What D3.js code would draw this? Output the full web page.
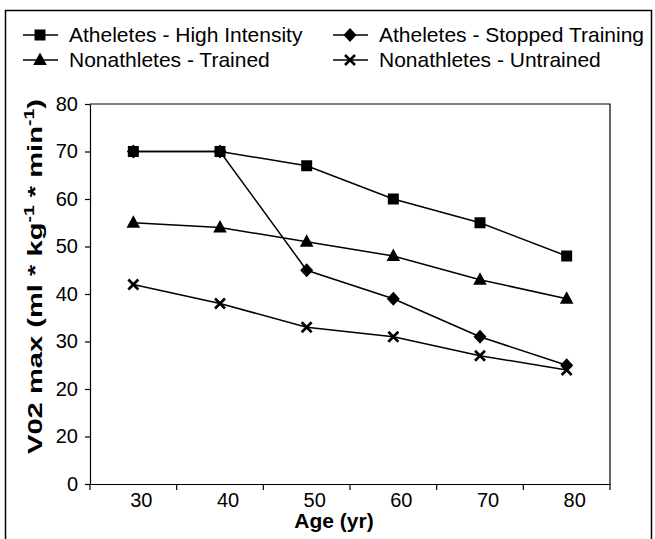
<!DOCTYPE html>
<html>
<head>
  <meta charset="utf-8">
  <title>V02 max by age</title>
  <script src="https://d3js.org/d3.v7.min.js"></script>
  <style>
    body { margin: 0; background: #fff; }
    text { font-family: "Liberation Sans", Arial, sans-serif; fill: #000; }
  </style>
</head>
<body>
  <script>
    // data
    const ages = ['30', '40', '50', '60', '70', '80'];
    const highIntensity = [70, 70, 67, 60, 55, 48];
    const stoppedTraining = [70, 70, 45, 39, 31, 25];
    const nonTrained = [55, 54, 51, 48, 43, 39];
    const nonUntrained = [42, 38, 33, 31, 27, 24];
    const yTicks = [0, 10, 20, 30, 40, 50, 60, 70, 80];
    // the original axis says "20" twice
    const yTickLabels = ['0', '20', '20', '30', '40', '50', '60', '70', '80'];

    const width = 655, height = 539;
    const margin = {left: 90, right: 45, top: 104, bottom: 55};

    const svg = d3.select('body').append('svg')
      .attr('width', width)
      .attr('height', height);

    // outer frame
    svg.append('rect')
      .attr('x', 5.5).attr('y', 10.5)
      .attr('width', 646).attr('height', 540)
      .attr('fill', 'none').attr('stroke', '#000').attr('stroke-width', 1.5);

    const x = d3.scaleBand().domain(ages).range([margin.left, width - margin.right]);
    const y = d3.scaleLinear().domain([0, 80]).range([height - margin.bottom, margin.top]);

    // plot box top / right
    svg.append('path')
      .attr('d', `M${x.range()[0]},${y(80)}H${x.range()[1]}V${y(0)}`)
      .attr('fill', 'none').attr('stroke', '#000').attr('stroke-width', 1.2);

    // y axis
    const yAxis = d3.axisLeft(y).tickValues(yTicks)
      .tickFormat((d, i) => yTickLabels[i]).tickSize(5).tickSizeOuter(0).tickPadding(7);
    const gy = svg.append('g').attr('transform', `translate(${margin.left},0)`).call(yAxis);
    gy.selectAll('text').style('font-size', '20px');
    gy.selectAll('line, path').attr('stroke', '#000').attr('stroke-width', 1.2);

    // x axis: labels centred, ticks on the category borders
    const xAxis = d3.axisBottom(x).tickSize(0).tickSizeOuter(0).tickPadding(9);
    const gx = svg.append('g').attr('transform', `translate(0,${y(0)})`).call(xAxis);
    gx.selectAll('text').style('font-size', '20px').attr('dx', 8);
    gx.select('.domain').attr('stroke', '#000').attr('stroke-width', 1.2);
    const borders = ages.map(a => x(a)).concat([x.range()[1]]);
    gx.selectAll('.border').data(borders).enter().append('line')
      .attr('x1', d => d).attr('x2', d => d)
      .attr('y1', 0).attr('y2', 6)
      .attr('stroke', '#000').attr('stroke-width', 1.2);

    // axis titles
    svg.append('text')
      .attr('x', 334).attr('y', 528)
      .attr('text-anchor', 'middle')
      .style('font-size', '21px').style('font-weight', 'bold')
      .text('Age (yr)');

    const yt = svg.append('text')
      .attr('transform', `translate(42,${y(0) - 30}) rotate(-90)`)
      .attr('textLength', 355).attr('lengthAdjust', 'spacingAndGlyphs')
      .style('font-size', '21px').style('font-weight', 'bold');
    yt.append('tspan').text('V02 max (ml * kg');
    yt.append('tspan').attr('dy', -8).style('font-size', '14px').text('-1');
    yt.append('tspan').attr('dy', 8).text(' * min');
    yt.append('tspan').attr('dy', -8).style('font-size', '14px').text('-1');
    yt.append('tspan').attr('dy', 8).text(')');

    // marker shapes
    const shapes = {
      square: 'M-5.5,-5.5H5.5V5.5H-5.5Z',
      diamond: 'M0,-7L6.5,0L0,7L-6.5,0Z',
      triangle: 'M0,-7.5L6.8,5L-6.8,5Z',
      x: 'M-5,-5L5,5M-5,5L5,-5'
    };

    const series = [
      {name: 'Atheletes - Stopped Training', values: stoppedTraining, symbol: 'diamond'},
      {name: 'Nonathletes - Trained', values: nonTrained, symbol: 'triangle'},
      {name: 'Nonathletes - Untrained', values: nonUntrained, symbol: 'x'},
      {name: 'Atheletes - High Intensity', values: highIntensity, symbol: 'square'}
    ];

    const cx = a => x(a) + x.bandwidth() / 2;
    const line = d3.line().x((d, i) => cx(ages[i])).y(d => y(d));

    function drawMarker(g, s, px, py) {
      const p = g.append('path')
        .attr('d', shapes[s.symbol])
        .attr('transform', `translate(${px},${py})`);
      if (s.symbol === 'x') p.attr('fill', 'none').attr('stroke', '#000').attr('stroke-width', 2.6);
      else p.attr('fill', '#000');
    }

    series.forEach(s => {
      svg.append('path')
        .attr('d', line(s.values))
        .attr('fill', 'none').attr('stroke', '#000').attr('stroke-width', 1.5);
    });
    series.forEach(s => {
      const g = svg.append('g');
      s.values.forEach((v, i) => drawMarker(g, s, cx(ages[i]), y(v)));
    });

    // legend
    const legendItems = [
      {s: series[3], x: 23, y: 35},
      {s: series[1], x: 23, y: 60},
      {s: series[0], x: 333, y: 35},
      {s: series[2], x: 333, y: 60}
    ];
    legendItems.forEach(l => {
      const g = svg.append('g');
      g.append('line')
        .attr('x1', l.x).attr('x2', l.x + 35)
        .attr('y1', l.y).attr('y2', l.y)
        .attr('stroke', '#000').attr('stroke-width', 1.5);
      drawMarker(g, l.s, l.x + 17, l.y);
      g.append('text')
        .attr('x', l.x + 46).attr('y', l.y)
        .attr('dy', '0.35em')
        .style('font-size', '21px')
        .text(l.s.name);
    });
  </script>
</body>
</html>
